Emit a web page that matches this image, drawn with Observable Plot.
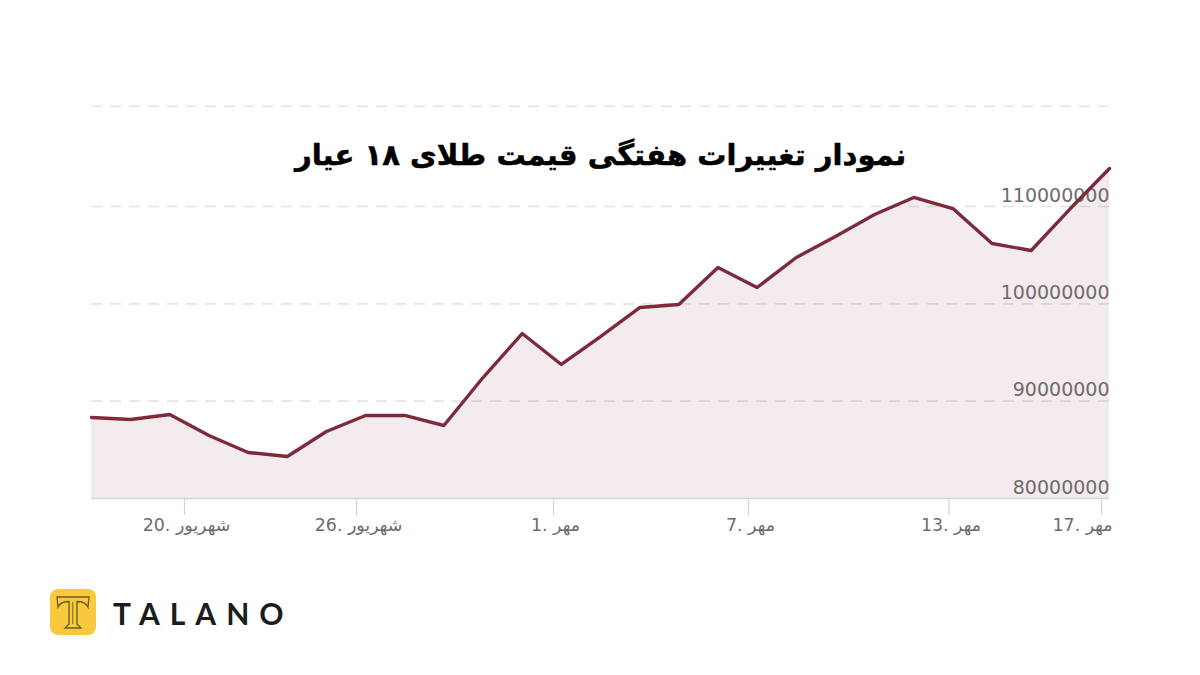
<!DOCTYPE html>
<html lang="fa">
<head>
<meta charset="utf-8">
<script src="https://cdn.jsdelivr.net/npm/d3@7"></script>
<script src="https://cdn.jsdelivr.net/npm/@observablehq/plot@0.6"></script>
<style>
html,body{margin:0;padding:0;background:#fff;width:1200px;height:675px;overflow:hidden}
#chart{position:absolute;left:0;top:0}
#brand{position:absolute;left:50px;top:589px;height:46px;display:flex;align-items:center}
#brand .mark{width:46px;height:46px}
#brand .word{position:absolute;left:63px;top:6px;font:700 30px/36px Lato,sans-serif;letter-spacing:10px;color:#1c1c1c;white-space:nowrap}
</style>
</head>
<body>
<div id="chart"></div>
<div id="brand">
<svg class="mark" viewBox="0 0 46 46"><rect width="46" height="46" rx="8" fill="#f8c93c"/><path d="M7 8H39L38 18C36 14 33 12.5 27 12.5V35L31 39H15L19 35V12.5C13 12.5 10 14 8 18Z" fill="none" stroke="#6b5a20" stroke-width="1.3"/><path d="M22.8 13V35" stroke="#6b5a20" stroke-width="0.9"/></svg>
<div class="word">TALANO</div>
</div>
<script>
const titleText = "نمودار تغییرات هفتگی قیمت طلای ۱۸ عیار";
const steps = d3.range(27);
const prices = [
  88320000, 88120000, 88630000, 86470000, 84730000, 84320000, 86880000, 88530000, 88530000,
  87500000, 92430000, 96950000, 93770000, 96640000, 99620000, 99930000, 103730000, 101680000,
  104760000, 106920000, 109180000, 110930000, 109790000, 106200000, 105480000, 109790000, 113900000
];
const gridValues = [90000000, 100000000, 110000000, 120300000];
const yLabels = [80000000, 90000000, 100000000, 110000000];
const tickSteps = [2.375, 6.77, 11.8, 16.78, 21.9, 25.8];
const tickLabels = ["20. شهریور", "26. شهریور", "1. مهر", "7. مهر", "13. مهر", "17. مهر"];
const series = steps.map((s, i) => ({step: s, price: prices[i]}));
const labelOf = d => tickLabels[tickSteps.indexOf(d)];
const ink = "#6f6b6c", axisColor = "#cbd5df", lineColor = "#7d2a3b";

const plot = Plot.plot({
  width: 1200, height: 675,
  marginLeft: 91, marginRight: 91, marginTop: 106, marginBottom: 177,
  style: {background: "transparent", fontFamily: "'DejaVu Sans', sans-serif"},
  x: {domain: [0, 26], axis: null},
  y: {domain: [80000000, 110000000], range: [498, 206], axis: null},
  marks: [
    Plot.ruleY(gridValues, {stroke: "#e4e4e4", strokeWidth: 1.6, strokeDasharray: "11,8"}),
    Plot.areaY(series, {x: "step", y1: 80000000, y2: "price", fill: lineColor, fillOpacity: 0.095}),
    Plot.ruleY([80000000], {stroke: axisColor, strokeWidth: 1.5}),
    Plot.ruleX(tickSteps, {y1: 80000000, y2: 78250000, stroke: axisColor, strokeWidth: 1.2}),
    Plot.axisX({ticks: tickSteps.slice(0, 5), tickFormat: labelOf, anchor: "bottom", tickSize: 0, tickPadding: 20,
      color: ink, fontSize: 17.4, label: null, dx: 2}),
    Plot.axisX({ticks: tickSteps.slice(5), tickFormat: labelOf, anchor: "bottom", tickSize: 0, tickPadding: 20,
      color: ink, fontSize: 17.4, label: null, textAnchor: "end", dx: 11}),
    Plot.axisY({ticks: yLabels, tickFormat: "d", anchor: "right", tickSize: 0, tickPadding: 0, textAnchor: "end",
      color: ink, fontSize: 19, dy: -11, label: null}),
    Plot.line(series, {x: "step", y: "price", stroke: lineColor, strokeWidth: 3.4, strokeLinejoin: "round"}),
    Plot.text([titleText], {frameAnchor: "top", dy: 49, fontSize: 29.1, fontWeight: 700, fill: "#000", stroke: "#000", strokeWidth: 0.5,
      fontFamily: "'DejaVu Sans', sans-serif", lineAnchor: "middle"})
  ]
});
document.getElementById("chart").append(plot);
</script>
</body>
</html>
